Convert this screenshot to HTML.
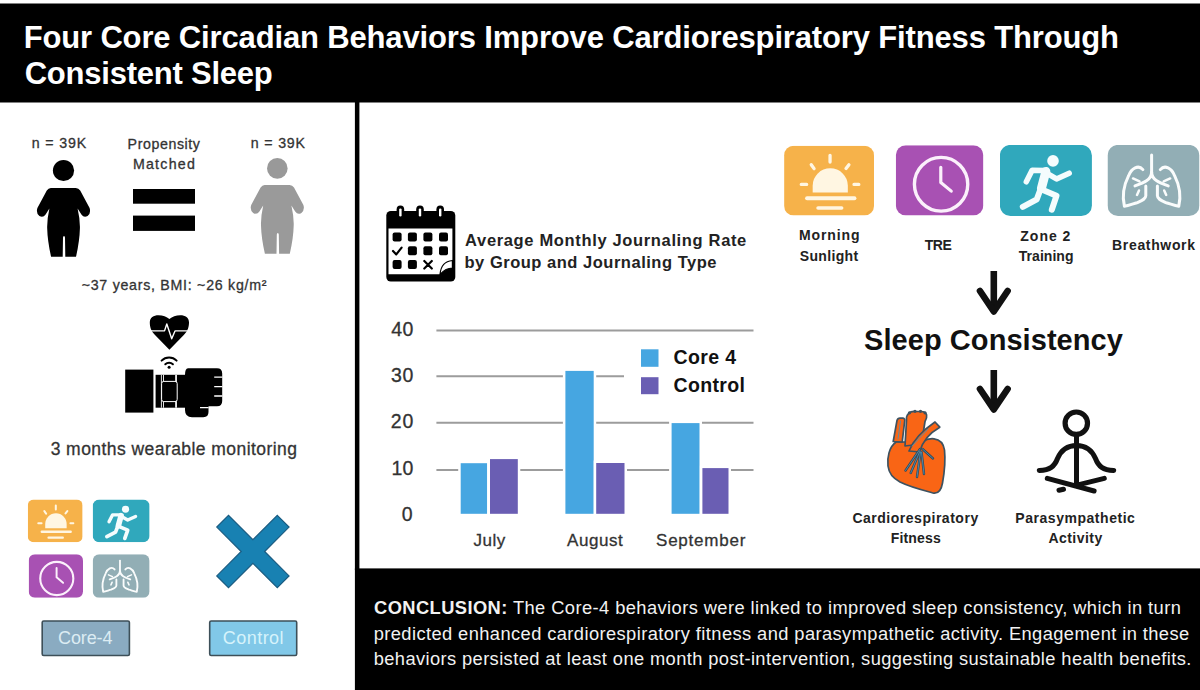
<!DOCTYPE html>
<html><head><meta charset="utf-8"><title>Four Core Circadian Behaviors</title>
<style>
html,body{margin:0;padding:0;background:#fff;}
body{width:1200px;height:690px;position:relative;overflow:hidden;font-family:"Liberation Sans",sans-serif;}
.t{position:absolute;white-space:nowrap;line-height:1;}
.m{-webkit-text-stroke:0.3px currentColor;}
svg.ov{position:absolute;left:0;top:0;}
</style></head><body>
<svg class="ov" width="1200" height="690" viewBox="0 0 1200 690">
<!-- header -->
<rect x="0" y="3.5" width="1200" height="99" fill="#000"/>
<!-- divider -->
<rect x="354.9" y="100" width="4.5" height="470" fill="#000"/>
<!-- conclusion box -->
<rect x="354.9" y="568.4" width="846" height="122" fill="#000"/>

<!-- left panel: people -->
<circle cx="63.5" cy="170.5" r="10.6" fill="#000"/>
<path d="M50.8 188 L75.8 188 Q78.6 188 80.2 190.6 L89.6 208 Q91.2 213 87.6 216 Q84 218.2 81.4 214.6 L77.6 208.6 Q80.2 220 79.9 228.5 Q79.6 241 76 256.8 L65.3 256.8 L65 237.5 Q64 234.6 63 237.5 L62.7 256.8 L51.1 256.8 Q47.5 241 47.2 228.5 Q46.9 220 49.4 208.6 L45.6 214.6 Q43 218.2 39.4 216 Q35.8 213 37.4 208 L46.8 190.6 Q48.4 188 50.8 188 Z" fill="#000"/>
<circle cx="277.3" cy="168.4" r="10.3" fill="#999"/>
<path d="M50.8 188 L75.8 188 Q78.6 188 80.2 190.6 L89.6 208 Q91.2 213 87.6 216 Q84 218.2 81.4 214.6 L77.6 208.6 Q80.2 220 79.9 228.5 Q79.6 241 76 256.8 L65.3 256.8 L65 237.5 Q64 234.6 63 237.5 L62.7 256.8 L51.1 256.8 Q47.5 241 47.2 228.5 Q46.9 220 49.4 208.6 L45.6 214.6 Q43 218.2 39.4 216 Q35.8 213 37.4 208 L46.8 190.6 Q48.4 188 50.8 188 Z" fill="#9a9a9a" transform="translate(213.8,-3.1)"/>
<rect x="133" y="189" width="62" height="14.7" fill="#000"/>
<rect x="133" y="215.6" width="62" height="15.3" fill="#000"/>

<!-- heart with pulse -->
<path d="M169.4 349.8 L155 335 C150.5 330.5 149.8 326 149.8 322.5 C149.8 317.5 153.5 315.2 158.5 315.2 C163 315.2 166.5 316.5 169.4 319 C172.3 316.5 175.8 315.2 180.3 315.2 C185.3 315.2 189 317.5 189 322.5 C189 326 188.3 330.5 183.8 335 Z" fill="#000"/>
<path d="M151 330.9 H164.5 L166.8 324 L171.7 338.7 L175 330.9 H187.6" stroke="#fff" stroke-width="1.4" fill="none" stroke-linejoin="round"/>
<!-- wifi -->
<path d="M161.6 360.6 A10.5 10.5 0 0 1 176.6 360.6 M165.3 364.2 A5.4 5.4 0 0 1 172.9 364.2" stroke="#000" stroke-width="2" fill="none" stroke-linecap="round"/>
<circle cx="169.1" cy="367.3" r="1.5" fill="#000"/>
<!-- wearable -->
<rect x="125.2" y="369.6" width="28.2" height="43" fill="#000"/>
<rect x="155.6" y="374.8" width="40" height="32.9" fill="#000"/>
<path d="M188 368.2 H217 Q222.2 368.2 222.2 373.4 V401 Q222.2 406.3 217 406.3 H208.5 V412 Q208.5 417.2 203.3 417.2 H192 Q185 417.2 185 410 V375 Q185 368.2 188 368.2 Z" fill="#000"/>
<path d="M214.2 377.1 H222.4 M214.2 386.6 H222.4 M214.2 396 H222.4 M200 407.7 H208.6" stroke="#fff" stroke-width="1.3"/>
<path d="M161.4 374.8 V407.7 M176.5 374.8 V407.7" stroke="#fff" stroke-width="0.9"/>
<rect x="161.6" y="381.4" width="15.6" height="20.2" rx="2.2" fill="#000" stroke="#fff" stroke-width="1"/>
<path d="M163.5 374.8 V381.4 M175.6 374.8 V381.4 M163.5 401.6 V407.7 M175.6 401.6 V407.7" stroke="#fff" stroke-width="0.9"/>

<!-- core-4 icons small -->
<svg x="27.8" y="499.6" width="54.8" height="42.6" viewBox="0 0 90 70" preserveAspectRatio="none">
  <rect width="90" height="70" rx="9.5" fill="#F6B24A"/>
  <g stroke="#FFF6E2" stroke-linecap="round" fill="none">
   <path d="M46 9.6V16.4 M27.2 19L30 23 M64.9 19L62 22.8 M17.2 38.9H22.6 M70 38.9H74.8" stroke-width="3.3"/>
   <path d="M23 52.8H70.4" stroke-width="4"/>
   <path d="M34 62.6H57.6" stroke-width="3.6"/>
  </g>
  <path d="M28.6 47 V40.2 A17.6 17.6 0 0 1 63.8 40.2 V47 Z" fill="#FFF6E2"/>
 </svg>
<svg x="92.7" y="499.6" width="56.9" height="42.6" viewBox="0 0 92 71" preserveAspectRatio="none">
  <rect width="92" height="71" rx="10.5" fill="#30A8BC"/>
  <circle cx="53.1" cy="16" r="5.8" fill="#F4FCFD"/>
  <g stroke="#F4FCFD" fill="none" stroke-linecap="round" stroke-linejoin="round">
   <path d="M46 26.5 L41.5 43.5" stroke-width="9"/>
   <path d="M45 25.5 L32.2 25.3 L26.4 36.9" stroke-width="5.5"/>
   <path d="M48 29 L56.6 34 L69.3 28.2" stroke-width="5.5"/>
   <path d="M40.5 44.5 L36.9 54.3 L22.9 61.8" stroke-width="6"/>
   <path d="M43 45 L56.6 50.8 L51.9 64.7" stroke-width="6"/>
  </g>
 </svg>
<svg x="28.7" y="554.3" width="54.3" height="43.5" viewBox="0 0 88 70" preserveAspectRatio="none">
  <rect width="88" height="70" rx="10" fill="#A851B3"/>
  <circle cx="45.5" cy="38.9" r="26.8" stroke="#FBF0FB" stroke-width="3.4" fill="none"/>
  <path d="M45.2 22.1 V37.1 L55.7 45.8" stroke="#FBF0FB" stroke-width="3.2" fill="none" stroke-linecap="round" stroke-linejoin="round"/>
 </svg>
<svg x="92.7" y="554.3" width="56.9" height="43.5" viewBox="0 0 92 71" preserveAspectRatio="none">
  <rect width="92" height="71" rx="10.5" fill="#92AEB5"/>
  <g stroke="#FAFCFC" stroke-width="3" fill="none" stroke-linecap="round" stroke-linejoin="round">
   <path d="M44.1 10.2 V28"/>
   <path d="M44.1 27 C44.1 35 36 38 27.5 41 M44.1 27 C44.1 35 52.2 38 60.7 41"/>
   <path d="M35.4 24.7 C31 19.5 24 23 21 31 C16.5 40 14.5 51 16.9 61.2 C21.5 60.5 26 58.5 29.6 57.7 C34.5 55.5 38.3 54 38.3 50.8 L38.3 41"/>
   <path d="M52.8 24.7 C57.2 19.5 64.2 23 67.2 31 C71.7 40 73.7 51 71.3 61.2 C66.7 60.5 62.2 58.5 58.6 57.7 C53.7 55.5 49.9 54 49.9 50.8 L49.9 41"/>
   <path d="M32 36.5 L25.5 33.5 M31.5 45.5 L29.5 50 M56.2 36.5 L62.7 33.5 M56.7 45.5 L58.7 50" stroke-width="2.5"/>
  </g>
 </svg>
<!-- X -->
<path transform="translate(252.9,551.5) rotate(45)" d="M-8.3 -42.8 H8.3 V-8.3 H42.8 V8.3 H8.3 V42.8 H-8.3 V8.3 H-42.8 V-8.3 H-8.3 Z" fill="#1881B2" stroke="#1a5b80" stroke-width="1.2"/>
<!-- labels boxes -->
<rect x="42.2" y="621" width="87.2" height="34.5" rx="1.5" fill="#8AABC1" stroke="#3d4f58" stroke-width="1.6"/>
<rect x="209.7" y="621" width="87" height="34.5" rx="1.5" fill="#81C8E8" stroke="#3d4f58" stroke-width="1.6"/>

<!-- calendar icon -->
<rect x="386.3" y="211" width="69" height="70.5" rx="4.5" fill="#000"/>
<path d="M388.5 228.4 H452.4 V260.5 L440 274.3 H388.5 Z" fill="#fff"/>
<path d="M452.4 260.5 C446 261 441 264 440 274.3 C444 270 449 268 452.4 268 Z" fill="#fff" stroke="#000" stroke-width="1.2"/>
<g fill="#000">
 <rect x="396.6" y="205.6" width="7.6" height="12.4" rx="3.8"/>
 <rect x="416.2" y="205.6" width="7.6" height="12.4" rx="3.8"/>
 <rect x="436.4" y="205.6" width="7.6" height="12.4" rx="3.8"/>
</g>
<g fill="#fff">
 <rect x="399.2" y="208.4" width="2.4" height="8" rx="1.2"/>
 <rect x="418.8" y="208.4" width="2.4" height="8" rx="1.2"/>
 <rect x="439" y="208.4" width="2.4" height="8" rx="1.2"/>
</g>
<g fill="#000">
 <rect x="392.6" y="232.6" width="9" height="9" rx="2"/>
 <rect x="407.9" y="232.6" width="9" height="9" rx="2"/>
 <rect x="423.4" y="232.6" width="9" height="9" rx="2"/>
 <rect x="439" y="232.6" width="9" height="9" rx="2"/>
 <rect x="407.9" y="246.3" width="9" height="9" rx="2"/>
 <rect x="423.4" y="246.3" width="9" height="9" rx="2"/>
 <rect x="439" y="246.3" width="9" height="9" rx="2"/>
 <rect x="392.6" y="260" width="9" height="9" rx="2"/>
 <rect x="407.9" y="260" width="9" height="9" rx="2"/>
</g>
<path d="M393 251 L396.3 254.4 L401.6 247.6 M424.3 261 L431.8 268.5 M431.8 261 L424.3 268.5" stroke="#000" stroke-width="2.2" fill="none" stroke-linecap="round" stroke-linejoin="round"/>

<!-- chart gridlines -->
<g stroke="#9c9c9c" stroke-width="2">
 <path d="M436.4 330.4 H753.5 M436.4 376.3 H753.5 M436.4 422.7 H753.5 M436.4 469.9 H753.5"/>
</g>
<!-- legend bg -->
<rect x="624" y="340" width="131" height="62" fill="#fff"/>
<!-- bars -->
<g stroke="#fff" stroke-width="5" paint-order="stroke">
 <rect x="460.7" y="463.2" width="26.4" height="50.6" fill="#46A6E1"/>
 <rect x="490" y="459.1" width="27.8" height="54.7" fill="#6A5EB3"/>
 <rect x="565.4" y="370.9" width="28.3" height="142.9" fill="#46A6E1"/>
 <rect x="596.2" y="463" width="28.3" height="50.8" fill="#6A5EB3"/>
 <rect x="671.6" y="423.1" width="27.9" height="90.7" fill="#46A6E1"/>
 <rect x="702.4" y="468.1" width="26.1" height="45.7" fill="#6A5EB3"/>
</g>
<rect x="641" y="349.3" width="17.5" height="17.5" fill="#46A6E1"/>
<rect x="641" y="377.2" width="17.5" height="17" fill="#6A5EB3"/>

<!-- right icons -->
<svg x="784.1" y="145.8" width="89.9" height="69.6" viewBox="0 0 90 70" preserveAspectRatio="none">
  <rect width="90" height="70" rx="9.5" fill="#F6B24A"/>
  <g stroke="#FFF6E2" stroke-linecap="round" fill="none">
   <path d="M46 9.6V16.4 M27.2 19L30 23 M64.9 19L62 22.8 M17.2 38.9H22.6 M70 38.9H74.8" stroke-width="3.3"/>
   <path d="M23 52.8H70.4" stroke-width="4"/>
   <path d="M34 62.6H57.6" stroke-width="3.6"/>
  </g>
  <path d="M28.6 47 V40.2 A17.6 17.6 0 0 1 63.8 40.2 V47 Z" fill="#FFF6E2"/>
 </svg>
<svg x="895.8" y="145.2" width="87.6" height="70.2" viewBox="0 0 88 70" preserveAspectRatio="none">
  <rect width="88" height="70" rx="10" fill="#A851B3"/>
  <circle cx="45.5" cy="38.9" r="26.8" stroke="#FBF0FB" stroke-width="3.4" fill="none"/>
  <path d="M45.2 22.1 V37.1 L55.7 45.8" stroke="#FBF0FB" stroke-width="3.2" fill="none" stroke-linecap="round" stroke-linejoin="round"/>
 </svg>
<svg x="999.9" y="144.9" width="92" height="71.1" viewBox="0 0 92 71" preserveAspectRatio="none">
  <rect width="92" height="71" rx="10.5" fill="#30A8BC"/>
  <circle cx="53.1" cy="16" r="5.8" fill="#F4FCFD"/>
  <g stroke="#F4FCFD" fill="none" stroke-linecap="round" stroke-linejoin="round">
   <path d="M46 26.5 L41.5 43.5" stroke-width="9"/>
   <path d="M45 25.5 L32.2 25.3 L26.4 36.9" stroke-width="5.5"/>
   <path d="M48 29 L56.6 34 L69.3 28.2" stroke-width="5.5"/>
   <path d="M40.5 44.5 L36.9 54.3 L22.9 61.8" stroke-width="6"/>
   <path d="M43 45 L56.6 50.8 L51.9 64.7" stroke-width="6"/>
  </g>
 </svg>
<svg x="1107.5" y="144.9" width="92" height="71.1" viewBox="0 0 92 71" preserveAspectRatio="none">
  <rect width="92" height="71" rx="10.5" fill="#92AEB5"/>
  <g stroke="#FAFCFC" stroke-width="3" fill="none" stroke-linecap="round" stroke-linejoin="round">
   <path d="M44.1 10.2 V28"/>
   <path d="M44.1 27 C44.1 35 36 38 27.5 41 M44.1 27 C44.1 35 52.2 38 60.7 41"/>
   <path d="M35.4 24.7 C31 19.5 24 23 21 31 C16.5 40 14.5 51 16.9 61.2 C21.5 60.5 26 58.5 29.6 57.7 C34.5 55.5 38.3 54 38.3 50.8 L38.3 41"/>
   <path d="M52.8 24.7 C57.2 19.5 64.2 23 67.2 31 C71.7 40 73.7 51 71.3 61.2 C66.7 60.5 62.2 58.5 58.6 57.7 C53.7 55.5 49.9 54 49.9 50.8 L49.9 41"/>
   <path d="M32 36.5 L25.5 33.5 M31.5 45.5 L29.5 50 M56.2 36.5 L62.7 33.5 M56.7 45.5 L58.7 50" stroke-width="2.5"/>
  </g>
 </svg>

<!-- arrows -->
<g stroke="#111" stroke-width="6.6" fill="none" stroke-linejoin="round" stroke-linecap="butt">
 <path d="M993.8 271 V311"/>
 <path d="M980 291 L993.8 311.5 L1007.6 291" stroke-linecap="round"/>
 <path d="M993.8 370 V409"/>
 <path d="M980 389 L993.8 409.4 L1007.6 389" stroke-linecap="round"/>
</g>

<!-- anatomical heart -->
<g stroke="#3E5260" stroke-width="1.7" stroke-linejoin="round" fill="#F96515">
 <path d="M896 442 C889 447 887 458 888 466 C889 474 893 478 900 482 C910 487 922 490 934 493.2 C939.5 493.5 941.5 489 942.5 483 C944.5 472 945.5 460 944.5 450 C943.5 443 939.5 439.5 934 438.8 C929 438.3 925 440 922 442 Z"/>
 <path d="M893.2 441.5 L897 420.5 Q897.6 418.2 900 418.2 L903 418.2 Q905.2 418.6 904.7 421 L902.2 442 Z"/>
 <path d="M905 446 L906.5 420.5 Q906 416 908.5 413.5 Q911 411.2 915 411.5 L921 411.5 Q925.8 411.5 926.6 415 Q927.2 418 925 421.5 L921.5 444 Z"/>
 <path d="M909 451 C913 441 921 431.5 935 422 L939.8 427.2 C929.5 433 922.5 441 919.5 452 Z"/>
</g>
<g fill="#3E5260">
 <circle cx="909.5" cy="412.8" r="1.6"/><circle cx="915" cy="411.3" r="1.6"/><circle cx="920.5" cy="411.3" r="1.6"/><circle cx="925" cy="412.8" r="1.6"/>
</g>
<g stroke="#34495a" stroke-width="2.4" fill="none" stroke-linecap="round">
 <path d="M920 449 L905.5 470.5 M920 451 L910.7 473 M920.5 452 L917 477 M921.5 452 L924 474 M922.5 449 L933 458.5"/>
</g>
<g stroke="#4f8fb0" stroke-width="0.9" fill="none" stroke-linecap="round">
 <path d="M920 449 L905.5 470.5 M920 451 L910.7 473 M920.5 452 L917 477 M921.5 452 L924 474 M922.5 449 L933 458.5"/>
 <path d="M912 446 L928 429"/>
 <path d="M900.5 421 L898 439"/>
</g>

<!-- meditation -->
<g stroke="#111" stroke-width="5" fill="none" stroke-linecap="round" stroke-linejoin="round">
 <circle cx="1076.3" cy="423.2" r="11.2" stroke-width="5.2"/>
 <path d="M1076.5 435 V483"/>
 <path d="M1039.3 470.5 C1050 470 1054.5 466.5 1057.5 458.5 C1061.5 449 1068 445.4 1076.5 445.4 C1085 445.4 1091.5 449 1095.5 458.5 C1098.5 466.5 1103 470 1113.7 470.5"/>
 <path d="M1047.3 478.3 L1094.1 491 M1104.3 478.3 L1077 485.2"/>
 <path d="M1059 490.3 L1063.5 489.3"/>
</g>
</svg>

<div class="t" style="left:23.66px;top:22.06px;font-size:31px;font-weight:700;color:#fff;letter-spacing:-0.151px;">Four Core Circadian Behaviors Improve Cardiorespiratory Fitness Through</div>
<div class="t" style="left:24.63px;top:57.76px;font-size:31px;font-weight:700;color:#fff;letter-spacing:-0.221px;">Consistent Sleep</div>
<div class="t m" style="left:31.70px;top:136.28px;font-size:14.2px;font-weight:400;color:#333;letter-spacing:0.887px;">n = 39K</div>
<div class="t m" style="left:127.60px;top:137.28px;font-size:14.2px;font-weight:400;color:#333;letter-spacing:0.590px;">Propensity</div>
<div class="t m" style="left:132.90px;top:156.98px;font-size:14.2px;font-weight:400;color:#333;letter-spacing:1.256px;">Matched</div>
<div class="t m" style="left:250.80px;top:136.28px;font-size:14.2px;font-weight:400;color:#333;letter-spacing:0.821px;">n = 39K</div>
<div class="t m" style="left:81.70px;top:278.18px;font-size:14.2px;font-weight:400;color:#333;letter-spacing:0.734px;">~37 years, BMI: ~26 kg/m²</div>
<div class="t m" style="left:50.65px;top:440.89px;font-size:17.5px;font-weight:400;color:#333;letter-spacing:0.443px;">3 months wearable monitoring</div>
<div class="t" style="left:58.10px;top:629.26px;font-size:18px;font-weight:400;color:#dcecf3;letter-spacing:-0.122px;">Core-4</div>
<div class="t" style="left:222.80px;top:629.26px;font-size:18px;font-weight:400;color:#d6f3fb;letter-spacing:0.462px;">Control</div>
<div class="t" style="left:465.10px;top:231.53px;font-size:16.5px;font-weight:700;color:#222;letter-spacing:0.653px;">Average Monthly Journaling Rate</div>
<div class="t" style="left:464.50px;top:253.53px;font-size:16.5px;font-weight:700;color:#222;letter-spacing:0.516px;">by Group and Journaling Type</div>
<div class="t m" style="left:391.20px;top:319.99px;font-size:19.5px;font-weight:400;color:#333;letter-spacing:0.555px;">40</div>
<div class="t m" style="left:390.90px;top:366.29px;font-size:19.5px;font-weight:400;color:#333;letter-spacing:0.855px;">30</div>
<div class="t m" style="left:390.70px;top:412.49px;font-size:19.5px;font-weight:400;color:#333;letter-spacing:1.055px;">20</div>
<div class="t m" style="left:391.60px;top:458.79px;font-size:19.5px;font-weight:400;color:#333;letter-spacing:-0.045px;">10</div>
<div class="t m" style="left:401.70px;top:505.49px;font-size:19.5px;font-weight:400;color:#333;letter-spacing:0.000px;">0</div>
<div class="t m" style="left:473.50px;top:531.91px;font-size:17px;font-weight:400;color:#333;letter-spacing:0.523px;">July</div>
<div class="t m" style="left:567.00px;top:531.91px;font-size:17px;font-weight:400;color:#333;letter-spacing:0.579px;">August</div>
<div class="t m" style="left:656.00px;top:531.91px;font-size:17px;font-weight:400;color:#333;letter-spacing:0.788px;">September</div>
<div class="t" style="left:673.45px;top:348.49px;font-size:19.5px;font-weight:700;color:#111;letter-spacing:0.401px;">Core 4</div>
<div class="t" style="left:673.45px;top:376.49px;font-size:19.5px;font-weight:700;color:#111;letter-spacing:0.375px;">Control</div>
<div class="t" style="left:798.90px;top:228.35px;font-size:14px;font-weight:700;color:#222;letter-spacing:0.924px;">Morning</div>
<div class="t" style="left:799.80px;top:248.85px;font-size:14px;font-weight:700;color:#222;letter-spacing:0.339px;">Sunlight</div>
<div class="t" style="left:924.70px;top:238.45px;font-size:14px;font-weight:700;color:#222;letter-spacing:-0.381px;">TRE</div>
<div class="t" style="left:1020.30px;top:228.65px;font-size:14px;font-weight:700;color:#222;letter-spacing:0.994px;">Zone 2</div>
<div class="t" style="left:1018.80px;top:248.85px;font-size:14px;font-weight:700;color:#222;letter-spacing:0.029px;">Training</div>
<div class="t" style="left:1112.10px;top:238.45px;font-size:14px;font-weight:700;color:#222;letter-spacing:0.652px;">Breathwork</div>
<div class="t" style="left:864.05px;top:325.75px;font-size:29px;font-weight:700;color:#111;letter-spacing:0.062px;">Sleep Consistency</div>
<div class="t" style="left:852.40px;top:510.65px;font-size:14px;font-weight:700;color:#222;letter-spacing:0.519px;">Cardiorespiratory</div>
<div class="t" style="left:890.80px;top:530.75px;font-size:14px;font-weight:700;color:#222;letter-spacing:0.145px;">Fitness</div>
<div class="t" style="left:1015.30px;top:510.65px;font-size:14px;font-weight:700;color:#222;letter-spacing:0.538px;">Parasympathetic</div>
<div class="t" style="left:1048.40px;top:530.75px;font-size:14px;font-weight:700;color:#222;letter-spacing:0.459px;">Activity</div>
<div class="t" style="left:374.10px;top:598.71px;font-size:18.3px;color:#f2f2f2;letter-spacing:0.424px"><b>CONCLUSION:</b> The Core-4 behaviors were linked to improved sleep consistency, which in turn</div>
<div class="t" style="left:373.70px;top:624.51px;font-size:18.3px;color:#f2f2f2;letter-spacing:0.413px">predicted enhanced cardiorespiratory fitness and parasympathetic activity. Engagement in these</div>
<div class="t" style="left:373.70px;top:650.31px;font-size:18.3px;color:#f2f2f2;letter-spacing:0.397px">behaviors persisted at least one month post-intervention, suggesting sustainable health benefits.</div>
</body></html>
